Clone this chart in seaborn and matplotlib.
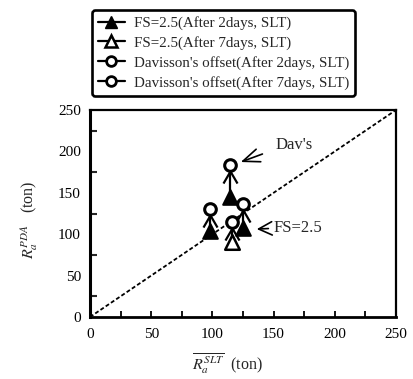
import matplotlib
matplotlib.use("Agg")
import matplotlib.pyplot as plt
from matplotlib.path import Path
from matplotlib.lines import Line2D
import seaborn as sns
import pandas as pd

# ---- data ----
x_2days = [98, 114, 125]
fs_2days = [104, 145, 108]
dav_2days = [131, 183, 137]
x_7days = [116]
fs_7days = [91]
dav_7days = [115]
labels = ["FS=2.5(After 2days, SLT)", "FS=2.5(After 7days, SLT)",
          "Davisson's offset(After 2days, SLT)", "Davisson's offset(After 7days, SLT)"]
axis_ticks = [0, 50, 100, 150, 200, 250]

sns.set_theme(style="white")
plt.rcParams['font.family'] = ['Liberation Serif', 'DejaVu Serif']
plt.rcParams['mathtext.fontset'] = 'stix'

fig = plt.figure(figsize=(4.14, 3.79), dpi=100)
ax = fig.add_axes([90/414, 1-317/379, 306/414, 207/379])

# diagonal 1:1 line
sns.lineplot(x=[0, 250], y=[0, 250], ax=ax, color='black', lw=1.3,
             linestyle=(0, (2.2, 1.3)), zorder=1)

# stick-figure bodies: connect circle to triangle
for xs, fs, dv in [(x_2days, fs_2days, dav_2days), (x_7days, fs_7days, dav_7days)]:
    for xi, f, d in zip(xs, fs, dv):
        ax.plot([xi, xi], [f, d], color='black', lw=1.6, zorder=2)

# arms marker (drawn below circle)
arm_path = Path([(0, -6), (-7, -18), (0, -6), (7, -18)],
                [Path.MOVETO, Path.LINETO, Path.MOVETO, Path.LINETO])
arms_x = x_2days + x_7days
arms_y = dav_2days + dav_7days
ax.plot(arms_x, arms_y, linestyle='none', marker=arm_path, markersize=26,
        markeredgecolor='black', markeredgewidth=1.6, markerfacecolor='none', zorder=2)

df_fs2 = pd.DataFrame({'x': x_2days, 'y': fs_2days})
df_fs7 = pd.DataFrame({'x': x_7days, 'y': fs_7days})
df_dv2 = pd.DataFrame({'x': x_2days, 'y': dav_2days})
df_dv7 = pd.DataFrame({'x': x_7days, 'y': dav_7days})

sns.scatterplot(data=df_fs2, x='x', y='y', ax=ax, marker='^', s=110,
                color='black', edgecolor='black', linewidth=1.5, zorder=3)
sns.scatterplot(data=df_fs7, x='x', y='y', ax=ax, marker='^', s=110,
                color='white', edgecolor='black', linewidth=1.8, zorder=3)
sns.scatterplot(data=df_dv2, x='x', y='y', ax=ax, marker='o', s=70,
                color='white', edgecolor='black', linewidth=2.2, zorder=3)
sns.scatterplot(data=df_dv7, x='x', y='y', ax=ax, marker='o', s=70,
                color='white', edgecolor='black', linewidth=2.2, zorder=3)

# annotations
ax.text(167, 208, "Dav's", fontsize=12, ha='center', va='center')
ax.annotate("", xy=(121, 186), xytext=(143, 198),
            arrowprops=dict(arrowstyle='->,head_length=1.0,head_width=0.4', lw=1.2, color='black'))
ax.text(150, 108, "FS=2.5", fontsize=12, ha='left', va='center')
ax.annotate("", xy=(134, 106), xytext=(148, 107),
            arrowprops=dict(arrowstyle='->,head_length=0.8,head_width=0.4', lw=1.2, color='black'))

# axes styling
ax.set_xlim(0, 250)
ax.set_ylim(0, 250)
ax.set_xticks(axis_ticks)
ax.set_yticks(axis_ticks)
ax.set_xticks([25, 75, 125, 175, 225], minor=True)
ax.set_yticks([25, 75, 125, 175, 225], minor=True)
ax.tick_params(axis='y', which='major', direction='inout', length=9, width=1.8,
               labelsize=11, pad=2, colors='black')
ax.tick_params(axis='y', which='minor', direction='in', length=5, width=1.5, left=True)
ax.tick_params(axis='x', which='both', direction='in', length=4, width=1.3,
               labelsize=11, pad=8, colors='black', bottom=True)
for sp in ax.spines.values():
    sp.set_color('black')
    sp.set_linewidth(1.6)
ax.spines['left'].set_linewidth(2.2)
ax.spines['bottom'].set_linewidth(2.0)

ax.set_xlabel(r"$\overline{R_a^{SLT}}$  (ton)", fontsize=11.5)
ax.xaxis.set_label_coords(0.448, -0.165)
ax.set_ylabel(r"$R_a^{PDA}$   (ton)", fontsize=11.5)
ax.yaxis.set_label_coords(-0.16, 0.47)

# legend
handles = [
    Line2D([], [], color='black', lw=1.6, marker='^', markersize=9, markerfacecolor='black'),
    Line2D([], [], color='black', lw=1.6, marker='^', markersize=9, markerfacecolor='white', markeredgewidth=1.8),
    Line2D([], [], color='black', lw=1.6, marker='o', markersize=7, markerfacecolor='white', markeredgewidth=2.0),
    Line2D([], [], color='black', lw=1.6, marker='o', markersize=7, markerfacecolor='white', markeredgewidth=2.0),
]
leg = fig.legend(handles, labels, loc='upper left', bbox_to_anchor=(92/414, 1-10/379),
                 fontsize=10.8, frameon=True, fancybox=True, handlelength=1.8,
                 handletextpad=0.6, labelspacing=0.4, borderpad=0.4, borderaxespad=0)
frame = leg.get_frame()
frame.set_edgecolor('black')
frame.set_linewidth(1.9)
frame.set_facecolor('white')
frame.set_alpha(1)

fig.savefig("out.png", dpi=100)
